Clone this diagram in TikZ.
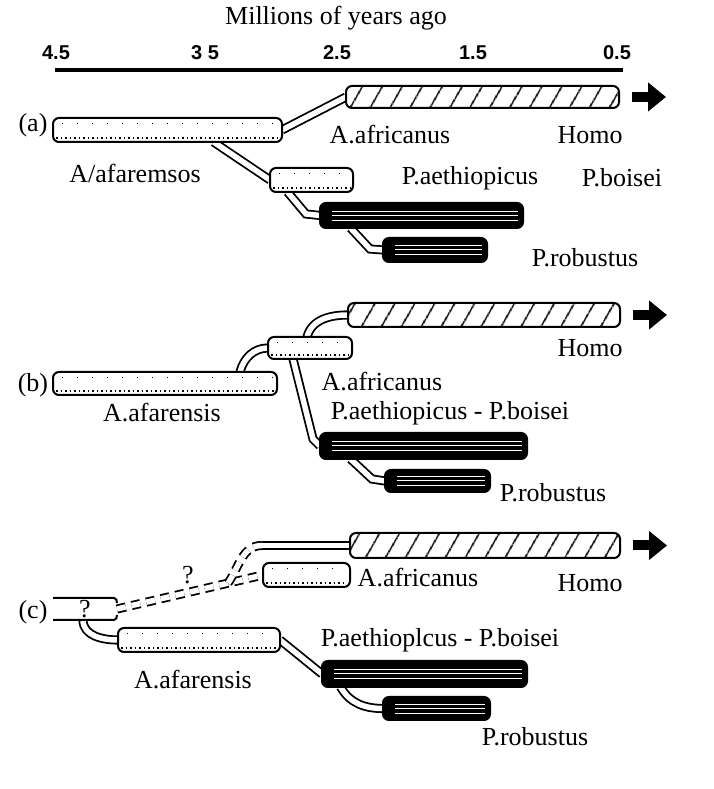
\documentclass[tikz,border=0pt]{standalone}
\usepackage{fontspec}
\setmainfont{Liberation Serif}
\newfontfamily\scalefont{Liberation Sans}
\usetikzlibrary{arrows.meta,patterns.meta,backgrounds,calc}

\begin{document}
\begin{tikzpicture}[x=1pt,y=1pt,
			every node/.style={inner sep=0pt,outer sep=0pt},
			lbl/.style={font=\fontsize{26}{30}\selectfont},
			num/.style={font=\scalefont\bfseries\fontsize{20}{24}\selectfont},
			tube/.style={anchor=west,draw,line width=2pt,rounded corners=6pt},
			stipple/.style={tube,fill=white,
				path picture={\draw[line width=1.8pt,dash pattern=on 1.5pt off 3pt]
					([xshift=3pt,yshift=4pt]path picture bounding box.south west) --
					([xshift=-3pt,yshift=4pt]path picture bounding box.south east);
					\draw[line width=1pt,dash pattern=on 1pt off 14pt]
					([xshift=9pt,yshift=-6pt]path picture bounding box.north west) --
					([xshift=-3pt,yshift=-6pt]path picture bounding box.north east);}},
			hatched/.style={tube,preaction={fill=white},
				pattern={Lines[angle=60,distance=17pt,line width=1.8pt]}},
			robust/.style={tube,fill=black,
				path picture={\foreach \d in {-5,0,4}
					\draw[white,line width=1pt]
					([xshift=12pt,yshift=\d pt]path picture bounding box.west) --
					([xshift=-5pt,yshift=\d pt]path picture bounding box.east);}},
			link/.style={line width=1.8pt,double=white,double distance=5.5pt},
			broken/.style={link,dash pattern=on 9pt off 6pt},
			bigarrow/.style={line width=10pt,-{Triangle[length=18pt,width=28pt]}},
			axisline/.style={line width=4pt}]
			
			\useasboundingbox (0,0) rectangle (713,789);
			
			% time scale
			\node[lbl](title) at (336,771){Millions of years ago};
			\foreach \x/\t [count=\i] in {56/4.5,205/3 5,337/2.5,473/1.5,617/0.5}
				\node[num](tick\i) at (\x,736){\t};
			\draw[axisline](55,719)--(623,719);
			
			% (a)
			\node[lbl](la) at (33,664){(a)};
			\node[hatched,minimum width=273pt,minimum height=22pt](homoA) at (346,692){};
			\node[stipple,minimum width=229pt,minimum height=24pt](afsA) at (53,659){};
			\node[stipple,minimum width=83pt,minimum height=24pt](aeA) at (270,609){};
			\node[robust,minimum width=203pt,minimum height=25pt](boA) at (320,573.5){};
			\node[robust,minimum width=104pt,minimum height=24pt](rbA) at (383,539){};
			
			\node[lbl](tafrA) at (390,654){A.africanus};
			\node[lbl](thomoA) at (590,654){Homo};
			\node[lbl](tafsA) at (135,616){A/afaremsos};
			\node[lbl](taeA) at (470,611){P.aethiopicus};
			\node[lbl](tboA) at (622,611){P.boisei};
			\node[lbl](trbA) at (585,531){P.robustus};
			
			\draw[bigarrow]([xshift=13pt]homoA.east)--++(34,0);
			
			\begin{scope}[on background layer]
				\draw[link](afsA.east)--(homoA.west);
				\draw[link]([xshift=46pt]afsA.south)--(aeA.west);
				\draw[link]([xshift=-24pt]aeA.south)--(306,575)--(boA.west);
				\draw[link]([xshift=-71pt]boA.south)--(370,540)--(rbA.west);
			\end{scope}
			
			% (b)
			\node[lbl](lb) at (33,404){(b)};
			\node[hatched,minimum width=272pt,minimum height=24pt](homoB) at (348,474){};
			\node[stipple,minimum width=84pt,minimum height=22pt](afrB) at (268,441){};
			\node[stipple,minimum width=224pt,minimum height=23pt](afsB) at (53,405.5){};
			\node[robust,minimum width=207pt,minimum height=26pt](boB) at (320,343){};
			\node[robust,minimum width=105pt,minimum height=22pt](rbB) at (385,308){};
			
			\node[lbl](thomoB) at (590,441){Homo};
			\node[lbl](tafrB) at (382,407){A.africanus};
			\node[lbl](tafsB) at (162,376){A.afarensis};
			\node[lbl](tboB) at (450,376){P.aethiopicus - P.boisei};
			\node[lbl](trbB) at (553,296){P.robustus};
			
			\draw[bigarrow]([xshift=13pt]homoB.east)--++(34,0);
			
			\begin{scope}[on background layer]
				\draw[link]([xshift=75pt]afsB.north) to[out=75,in=180](afrB.west);
				\draw[link]([xshift=-3pt]afrB.north) to[out=75,in=180](homoB.west);
				\draw[link]([xshift=-17pt]afrB.south)--(313,350)--(boB.west);
				\draw[link]([xshift=-73pt]boB.south)--(372,310)--(rbB.west);
			\end{scope}
			
			% (c)
			\node[lbl](lc) at (33,177){(c)};
			\node[hatched,minimum width=270pt,minimum height=25pt](homoC) at (350,243.5){};
			\node[stipple,minimum width=87pt,minimum height=24pt](afrC) at (263,214){};
			\node[lbl,anchor=west,minimum width=64pt,minimum height=22pt](qC) at (53,180){?};
			\node[stipple,minimum width=162pt,minimum height=24pt](afsC) at (118,149){};
			\node[robust,minimum width=205pt,minimum height=26pt](boC) at (322,115){};
			\node[robust,minimum width=107pt,minimum height=23pt](rbC) at (383,80.5){};
			
			\draw[line width=2pt](qC.north west)--([xshift=-3pt]qC.north east)
				to[out=0,in=90]([yshift=-5pt]qC.north east);
			\draw[line width=2pt](qC.south west)--([xshift=-3pt]qC.south east)
				to[out=0,in=-90]([yshift=5pt]qC.south east);
			
			\node[lbl](tq) at (188,214){?};
			\node[lbl](tafrC) at (418,211){A.africanus};
			\node[lbl](thomoC) at (590,206){Homo};
			\node[lbl](tafsC) at (193,109){A.afarensis};
			\node[lbl](tboC) at (440,149){P.aethioplcus - P.boisei};
			\node[lbl](trbC) at (535,52){P.robustus};
			
			\draw[bigarrow]([xshift=13pt]homoC.east)--++(34,0);
			
			\coordinate(fork) at ($(qC.east)!0.76!(afrC.west)$);
			\coordinate(bend) at (262,243.5);
			
			\begin{scope}[on background layer]
				\draw[broken](qC.east)--(afrC.west);
				\draw[broken](fork) to[out=55,in=180](bend);
				\draw[link](bend)--(homoC.west);
				\draw[link]([xshift=-2pt]qC.south) to[out=-90,in=180](afsC.west);
				\draw[link](afsC.east)--(boC.west);
				\draw[link]([xshift=-84pt]boC.south) to[out=-60,in=180](rbC.west);
			\end{scope}
			
		\end{tikzpicture}
\end{document}
